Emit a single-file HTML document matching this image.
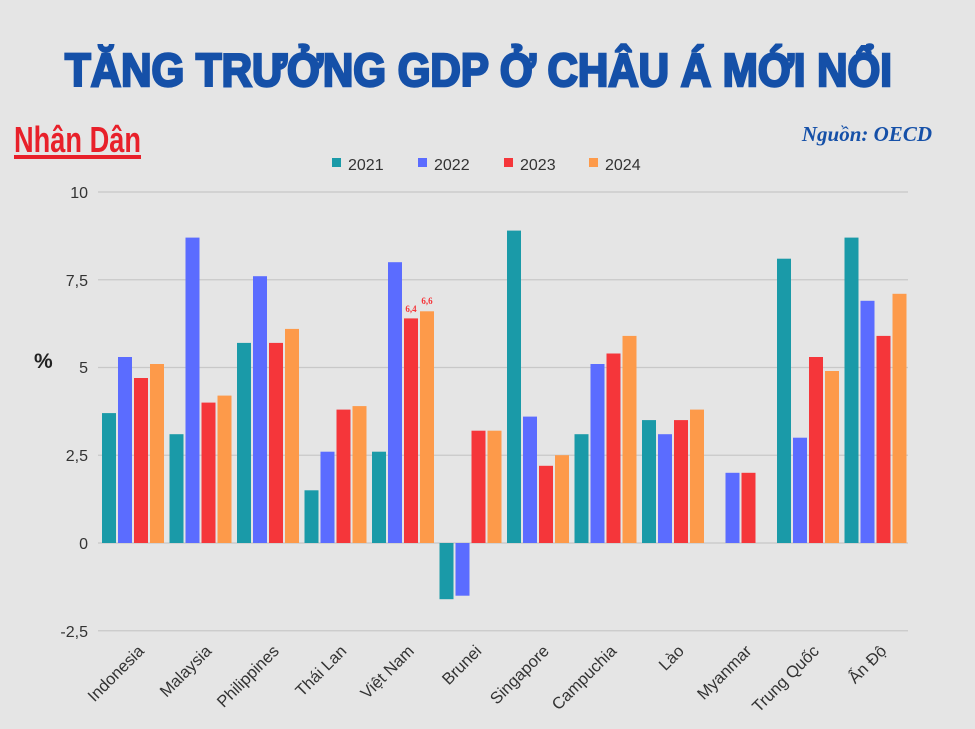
<!DOCTYPE html>
<html><head><meta charset="utf-8"><style>
html,body{margin:0;padding:0;background:#e5e5e5;}
svg{display:block;}
</style></head><body>
<svg width="975" height="729" viewBox="0 0 975 729" xmlns="http://www.w3.org/2000/svg">
<rect width="975" height="729" fill="#e5e5e5"/>
<text x="65" y="86" textLength="827" lengthAdjust="spacingAndGlyphs" font-family="Liberation Sans, sans-serif" font-weight="bold" font-size="46" fill="#1550a8" stroke="#1550a8" stroke-width="2.5">TĂNG TRƯỞNG GDP Ở CHÂU Á MỚI NỔI</text>
<text x="14" y="152" textLength="127" lengthAdjust="spacingAndGlyphs" font-family="Liberation Sans Narrow, Liberation Sans, sans-serif" font-weight="bold" font-size="36" fill="#e8202a">Nhân Dân</text>
<rect x="14" y="155" width="127" height="4" fill="#e8202a"/>
<text x="932" y="141" text-anchor="end" font-family="Liberation Serif, serif" font-style="italic" font-weight="bold" font-size="21" fill="#1550a8">Nguồn: OECD</text>
<g font-family="Liberation Sans, sans-serif" font-size="16" fill="#333">
<rect x="332" y="158" width="9" height="9" fill="#1a9aa8"/><text x="348" y="170">2021</text>
<rect x="418" y="158" width="9" height="9" fill="#5b6cff"/><text x="434" y="170">2022</text>
<rect x="504" y="158" width="9" height="9" fill="#f5363a"/><text x="520" y="170">2023</text>
<rect x="589" y="158" width="9" height="9" fill="#fd9a4a"/><text x="605" y="170">2024</text>
</g>
<g stroke="#c8c8c8" stroke-width="1.2">
<line x1="98" x2="908" y1="192" y2="192"/>
<line x1="98" x2="908" y1="279.75" y2="279.75"/>
<line x1="98" x2="908" y1="367.5" y2="367.5"/>
<line x1="98" x2="908" y1="455.25" y2="455.25"/>
<line x1="98" x2="908" y1="543" y2="543"/>
<line x1="98" x2="908" y1="630.75" y2="630.75"/>
</g>
<g font-family="Liberation Sans, sans-serif" font-size="16" fill="#333" text-anchor="end">
<text x="88" y="198">10</text>
<text x="88" y="286">7,5</text>
<text x="88" y="373">5</text>
<text x="88" y="461">2,5</text>
<text x="88" y="549">0</text>
<text x="88" y="637">-2,5</text>
</g>
<text x="34" y="368" font-family="Liberation Sans, sans-serif" font-weight="bold" font-size="21" fill="#222">%</text>
<g>
<g transform="translate(102,0)"><rect x="0" y="413.1" width="14" height="129.9" fill="#1a9aa8"/><rect x="16" y="357" width="14" height="186" fill="#5b6cff"/><rect x="32" y="378" width="14" height="165" fill="#f5363a"/><rect x="48" y="364" width="14" height="179" fill="#fd9a4a"/></g>
<g transform="translate(169.5,0)"><rect x="0" y="434.2" width="14" height="108.8" fill="#1a9aa8"/><rect x="16" y="237.6" width="14" height="305.4" fill="#5b6cff"/><rect x="32" y="402.6" width="14" height="140.4" fill="#f5363a"/><rect x="48" y="395.6" width="14" height="147.4" fill="#fd9a4a"/></g>
<g transform="translate(237,0)"><rect x="0" y="342.9" width="14" height="200.1" fill="#1a9aa8"/><rect x="16" y="276.2" width="14" height="266.8" fill="#5b6cff"/><rect x="32" y="342.9" width="14" height="200.1" fill="#f5363a"/><rect x="48" y="328.9" width="14" height="214.1" fill="#fd9a4a"/></g>
<g transform="translate(304.5,0)"><rect x="0" y="490.3" width="14" height="52.7" fill="#1a9aa8"/><rect x="16" y="451.7" width="14" height="91.3" fill="#5b6cff"/><rect x="32" y="409.6" width="14" height="133.4" fill="#f5363a"/><rect x="48" y="406.1" width="14" height="136.9" fill="#fd9a4a"/></g>
<g transform="translate(372,0)"><rect x="0" y="451.7" width="14" height="91.3" fill="#1a9aa8"/><rect x="16" y="262.2" width="14" height="280.8" fill="#5b6cff"/><rect x="32" y="318.4" width="14" height="224.6" fill="#f5363a"/><rect x="48" y="311.3" width="14" height="231.7" fill="#fd9a4a"/>
<text x="39" y="312" text-anchor="middle" font-family="Liberation Serif, serif" font-weight="bold" font-size="9" fill="#f5363a">6,4</text>
<text x="55" y="304" text-anchor="middle" font-family="Liberation Serif, serif" font-weight="bold" font-size="9" fill="#f5363a">6,6</text></g>
<g transform="translate(439.5,0)"><rect x="0" y="543" width="14" height="56.2" fill="#1a9aa8"/><rect x="16" y="543" width="14" height="52.7" fill="#5b6cff"/><rect x="32" y="430.7" width="14" height="112.3" fill="#f5363a"/><rect x="48" y="430.7" width="14" height="112.3" fill="#fd9a4a"/></g>
<g transform="translate(507,0)"><rect x="0" y="230.6" width="14" height="312.4" fill="#1a9aa8"/><rect x="16" y="416.6" width="14" height="126.4" fill="#5b6cff"/><rect x="32" y="465.8" width="14" height="77.2" fill="#f5363a"/><rect x="48" y="455.2" width="14" height="87.8" fill="#fd9a4a"/></g>
<g transform="translate(574.5,0)"><rect x="0" y="434.2" width="14" height="108.8" fill="#1a9aa8"/><rect x="16" y="364" width="14" height="179" fill="#5b6cff"/><rect x="32" y="353.5" width="14" height="189.5" fill="#f5363a"/><rect x="48" y="335.9" width="14" height="207.1" fill="#fd9a4a"/></g>
<g transform="translate(642,0)"><rect x="0" y="420.1" width="14" height="122.9" fill="#1a9aa8"/><rect x="16" y="434.2" width="14" height="108.8" fill="#5b6cff"/><rect x="32" y="420.1" width="14" height="122.9" fill="#f5363a"/><rect x="48" y="409.6" width="14" height="133.4" fill="#fd9a4a"/></g>
<g transform="translate(709.5,0)"><rect x="16" y="472.8" width="14" height="70.2" fill="#5b6cff"/><rect x="32" y="472.8" width="14" height="70.2" fill="#f5363a"/></g>
<g transform="translate(777,0)"><rect x="0" y="258.7" width="14" height="284.3" fill="#1a9aa8"/><rect x="16" y="437.7" width="14" height="105.3" fill="#5b6cff"/><rect x="32" y="357" width="14" height="186" fill="#f5363a"/><rect x="48" y="371" width="14" height="172" fill="#fd9a4a"/></g>
<g transform="translate(844.5,0)"><rect x="0" y="237.6" width="14" height="305.4" fill="#1a9aa8"/><rect x="16" y="300.8" width="14" height="242.2" fill="#5b6cff"/><rect x="32" y="335.9" width="14" height="207.1" fill="#f5363a"/><rect x="48" y="293.8" width="14" height="249.2" fill="#fd9a4a"/></g>
</g>
<g font-family="Liberation Sans, sans-serif" font-size="16.5" fill="#333" text-anchor="end">
<text transform="translate(145,652) rotate(-45)">Indonesia</text>
<text transform="translate(212.5,652) rotate(-45)">Malaysia</text>
<text transform="translate(280,652) rotate(-45)">Philippines</text>
<text transform="translate(347.5,652) rotate(-45)">Thái Lan</text>
<text transform="translate(415,652) rotate(-45)">Việt Nam</text>
<text transform="translate(482.5,652) rotate(-45)">Brunei</text>
<text transform="translate(550,652) rotate(-45)">Singapore</text>
<text transform="translate(617.5,652) rotate(-45)">Campuchia</text>
<text transform="translate(685,652) rotate(-45)">Lào</text>
<text transform="translate(752.5,652) rotate(-45)">Myanmar</text>
<text transform="translate(820,652) rotate(-45)">Trung Quốc</text>
<text transform="translate(887.5,652) rotate(-45)">Ấn Độ</text>
</g>
</svg>
</body></html>
